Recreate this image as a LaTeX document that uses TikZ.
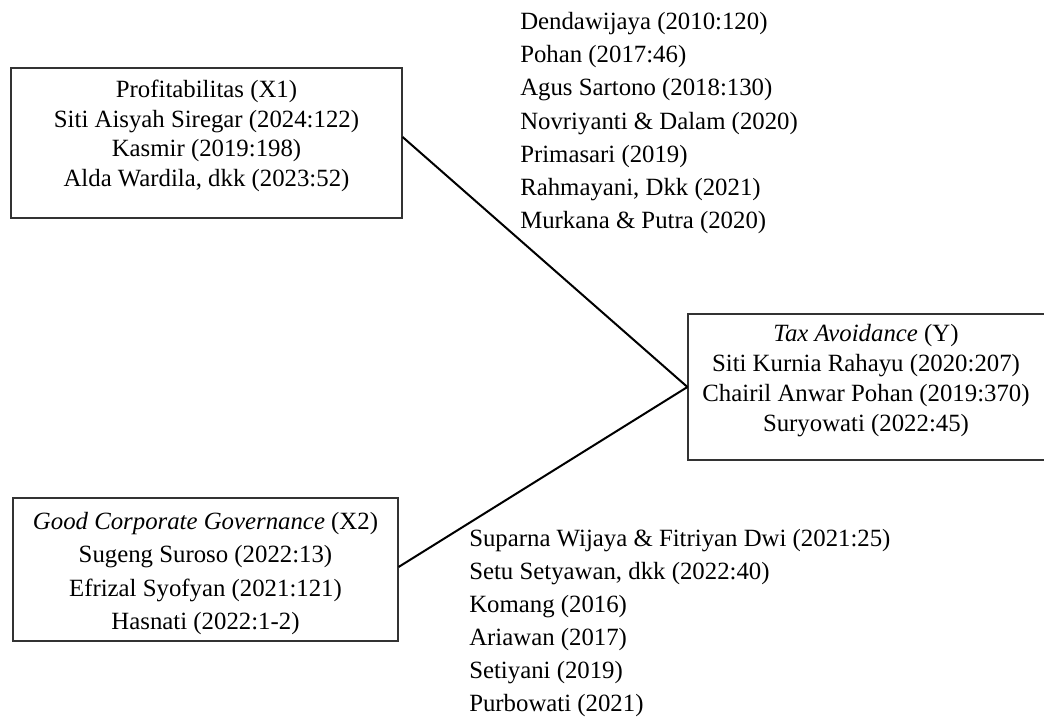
\documentclass[tikz,border=0pt]{standalone}
\usepackage{fontspec}
\setmainfont{Liberation Serif}
\begin{document}
\begin{tikzpicture}[x=0.75pt,y=-0.75pt,
  box/.style={draw=black!80, line width=0.9pt, rectangle, inner sep=0pt},
  tx/.style={font=\fontsize{18.6}{22}\selectfont, anchor=base, inner sep=0pt},
  lx/.style={font=\fontsize{18.6}{22}\selectfont, anchor=base west, inner sep=0pt},
  link/.style={line width=1.5pt, black}]
\useasboundingbox (0,0) rectangle (1044,717);
\begin{scope}
\clip (0,0) rectangle (1044,717);
% boxes
\node[box, minimum width=293.25pt, minimum height=112.5pt] (b1) at (206.5,143) {};
\node[box, minimum width=288.75pt, minimum height=107.25pt] (b2) at (205.5,569.5) {};
\node[box, minimum width=270pt, minimum height=109.5pt] (by) at (868,387) {};
\end{scope}
% box 1 text
\node[tx] (b1a) at (206.5,97.7) {Profitabilitas (X1)};
\node[tx] (b1b) at (206.5,127.3) {Siti Aisyah Siregar (2024:122)};
\node[tx] (b1c) at (206.5,156.9) {Kasmir (2019:198)};
\node[tx] (b1d) at (206.5,186.5) {Alda Wardila, dkk (2023:52)};
% box 2 text
\node[tx] (b2a) at (205.5,529) {\textit{Good Corporate Governance} (X2)};
\node[tx] (b2b) at (205.5,562.5) {Sugeng Suroso (2022:13)};
\node[tx] (b2c) at (205.5,596) {Efrizal Syofyan (2021:121)};
\node[tx] (b2d) at (205.5,629.5) {Hasnati (2022:1-2)};
% box Y text
\node[tx] (bya) at (866,341.7) {\textit{Tax Avoidance} (Y)};
\node[tx] (byb) at (866,371.5) {Siti Kurnia Rahayu (2020:207)};
\node[tx] (byc) at (866,401.3) {Chairil Anwar Pohan (2019:370)};
\node[tx] (byd) at (866,431) {Suryowati (2022:45)};
% top list
\node[lx] (t1) at (520,29.5) {Dendawijaya (2010:120)};
\node[lx] (t2) at (520,62.7) {Pohan (2017:46)};
\node[lx] (t3) at (520,95.9) {Agus Sartono (2018:130)};
\node[lx] (t4) at (520,129.1) {Novriyanti \& Dalam (2020)};
\node[lx] (t5) at (520,162.3) {Primasari (2019)};
\node[lx] (t6) at (520,195.5) {Rahmayani, Dkk (2021)};
\node[lx] (t7) at (520,228.7) {Murkana \& Putra (2020)};
% bottom list
\node[lx] (u1) at (469,546.7) {Suparna Wijaya \& Fitriyan Dwi (2021:25)};
\node[lx] (u2) at (469,579.7) {Setu Setyawan, dkk (2022:40)};
\node[lx] (u3) at (469,612.7) {Komang (2016)};
\node[lx] (u4) at (469,645.7) {Ariawan (2017)};
\node[lx] (u5) at (469,678.7) {Setiyani (2019)};
\node[lx] (u6) at (469,711.7) {Purbowati (2021)};
% connectors
\draw[link] ([yshift=4.5pt]b1.east) -- (by.west);
\draw[link] (by.west) -- ([yshift=1.9pt]b2.east);
\end{tikzpicture}
\end{document}
